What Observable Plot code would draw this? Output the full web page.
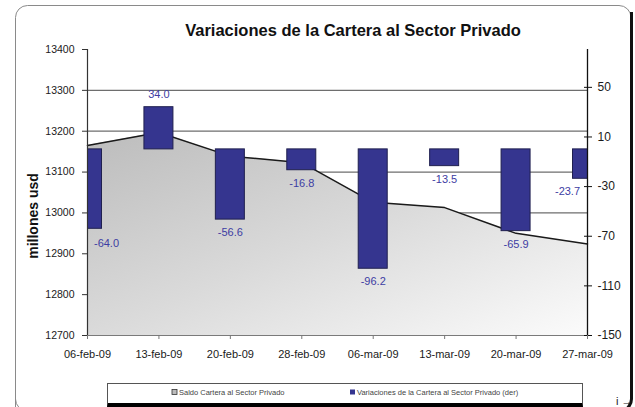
<!DOCTYPE html>
<html><head><meta charset="utf-8">
<script src="https://cdn.jsdelivr.net/npm/d3@7"></script>
<script src="https://cdn.jsdelivr.net/npm/@observablehq/plot@0.6"></script>
<style>
body{margin:0;background:#fff;font-family:Arial,"Liberation Sans",sans-serif;}
#wrap{position:relative;width:635px;height:407px;overflow:hidden;background:#fff;}
#bg{position:absolute;left:0;top:0;}
#chart{position:absolute;left:0;top:0;}
#legend{position:absolute;left:107px;top:383px;width:476px;height:24px;box-sizing:border-box;border:1px solid #555;border-bottom:4px solid #000;background:#fff;}
#deco{position:absolute;left:0;top:0;pointer-events:none;}
</style></head>
<body>
<div id="wrap">
  <svg id="bg" width="635" height="407">
    <path d="M15.5 420 L15.5 399 L15.5 17.5 A12 12 0 0 1 27.5 5.5 L619 5.5 A12 12 0 0 1 631 17.5" fill="none" stroke="#8a8a8a" stroke-width="1"></path>
    <path d="M15.5 399 A12 12 0 0 0 27.5 411" fill="none" stroke="#8a8a8a" stroke-width="1"></path>
    <path d="M631.5 12 L631.5 399 A12 12 0 0 1 619.5 411" fill="none" stroke="#111" stroke-width="3"></path>
  </svg>
  <div id="chart"></div>
  <div id="legend"></div>
  <svg id="deco" width="635" height="407">
    <text x="353" y="35.5" text-anchor="middle" font-family="Arial, 'Liberation Sans', sans-serif" font-weight="bold" font-size="16.5" fill="#111">Variaciones de la Cartera al Sector Privado</text>
    <text transform="translate(38,216) rotate(-90)" text-anchor="middle" font-family="Arial, 'Liberation Sans', sans-serif" font-weight="bold" font-size="14" fill="#111">millones usd</text>
    <rect x="172" y="389.5" width="5" height="5" fill="#bbb" stroke="#333" stroke-width="0.8"></rect>
    <text x="179" y="394.5" font-family="Arial, 'Liberation Sans', sans-serif" font-size="7.5" fill="#444">Saldo Cartera al Sector Privado</text>
    <rect x="350" y="389.5" width="5" height="5" fill="#35358f"></rect>
    <text x="357" y="394.5" font-family="Arial, 'Liberation Sans', sans-serif" font-size="7.5" fill="#444">Variaciones de la Cartera al Sector Privado (der)</text>
  </svg>
</div>
<script>
const dates = ["06-feb-09","13-feb-09","20-feb-09","28-feb-09","06-mar-09","13-mar-09","20-mar-09","27-mar-09"];
const saldo = [13165, 13197, 13139, 13123, 13026, 13013, 12950, 12924];
const variaciones = [-64.0, 34.0, -56.6, -16.8, -96.2, -13.5, -65.9, -23.7];
const leftTicks = [12700, 12800, 12900, 13000, 13100, 13200, 13300, 13400];
const rightTicks = [-150, -110, -70, -30, 10, 50];
const leftDomain = [12700, 13400];
const rightDomain = [-150, 80.5];

const toLeft = d3.scaleLinear().domain(rightDomain).range(leftDomain);
const data = dates.map((d, i) => ({i, date: d, saldo: saldo[i], v: variaciones[i], vy: toLeft(variaciones[i]), zero: toLeft(0)}));
const last = dates.length - 1;
const mid = data.filter(d => d.i > 0 && d.i < last);
const fontFam = "Arial, 'Liberation Sans', sans-serif";
const labelColor = "#3d3da3";

const plot = Plot.plot({
  width: 635, height: 407,
  marginLeft: 87, marginRight: 48, marginTop: 49, marginBottom: 72,
  x: {domain: [0, last], axis: null},
  y: {domain: leftDomain, axis: null},
  style: {background: "transparent", fontFamily: fontFam},
  marks: [
    Plot.ruleY(leftTicks.filter(t => t > leftDomain[0] && t < leftDomain[1]), {stroke: "#6e6e6e", strokeWidth: 1.2}),
    Plot.areaY(data, {x: "i", y1: leftDomain[0], y2: "saldo", fill: "url(#areaGrad)"}),
    Plot.lineY(data, {x: "i", y: "saldo", stroke: "#1a1a1a", strokeWidth: 1.5}),
    Plot.rect(data, {x1: d => d.i - 0.203, x2: d => d.i + 0.203, y1: "zero", y2: "vy", fill: "#35358f", stroke: "#20204f", strokeWidth: 1, clip: true}),
    Plot.ruleY([leftDomain[0]], {stroke: "#7a7a7a", strokeWidth: 1.2}),
    Plot.ruleX([0], {stroke: "#333", strokeWidth: 1.2}),
    Plot.ruleX([last], {stroke: "#111", strokeWidth: 1.3}),
    Plot.axisY(leftTicks, {anchor: "left", tickSize: 5, tickPadding: 8, tickFormat: d => String(d), fontSize: 10.5, fill: "#1a1a1a", stroke: "#333"}),
    Plot.axisY(rightTicks.map(toLeft), {anchor: "right", tickSize: 8, dx: -4, tickFormat: () => "", stroke: "#111"}),
    Plot.axisY(rightTicks.map(toLeft), {anchor: "right", tickSize: 0, tickPadding: 10, tickFormat: d => String(Math.round(toLeft.invert(d))), fontSize: 12, fill: "#1a1a1a"}),
    Plot.axisX(d3.range(dates.length), {anchor: "bottom", tickSize: 4, tickPadding: 11, tickFormat: i => dates[i], fontSize: 11, fill: "#1a1a1a", stroke: "#777"}),
    Plot.text(mid.filter(d => d.v < 0), {x: "i", y: "vy", text: d => d.v.toFixed(1), dy: 13, fill: labelColor, fontSize: 11}),
    Plot.text(mid.filter(d => d.v >= 0), {x: "i", y: "vy", text: d => d.v.toFixed(1), dy: -13, fill: labelColor, fontSize: 11}),
    Plot.text(data.filter(d => d.i === 0), {x: "i", y: "vy", text: d => d.v.toFixed(1), dy: 15, dx: 19, fill: labelColor, fontSize: 11}),
    Plot.text(data.filter(d => d.i === last), {x: "i", y: "vy", text: d => d.v.toFixed(1), dy: 13, dx: -20, fill: labelColor, fontSize: 11})
  ]
});

const svg = d3.select(plot);
const defs = svg.insert("defs", ":first-child");
const g = defs.append("linearGradient").attr("id", "areaGrad")
  .attr("x1", 0).attr("y1", 0).attr("x2", 1).attr("y2", 1);
g.append("stop").attr("offset", "0%").attr("stop-color", "#bcbcbc");
g.append("stop").attr("offset", "50%").attr("stop-color", "#dadada");
g.append("stop").attr("offset", "100%").attr("stop-color", "#fbfbfb");
document.getElementById("chart").appendChild(plot);
</script>
</body></html>
